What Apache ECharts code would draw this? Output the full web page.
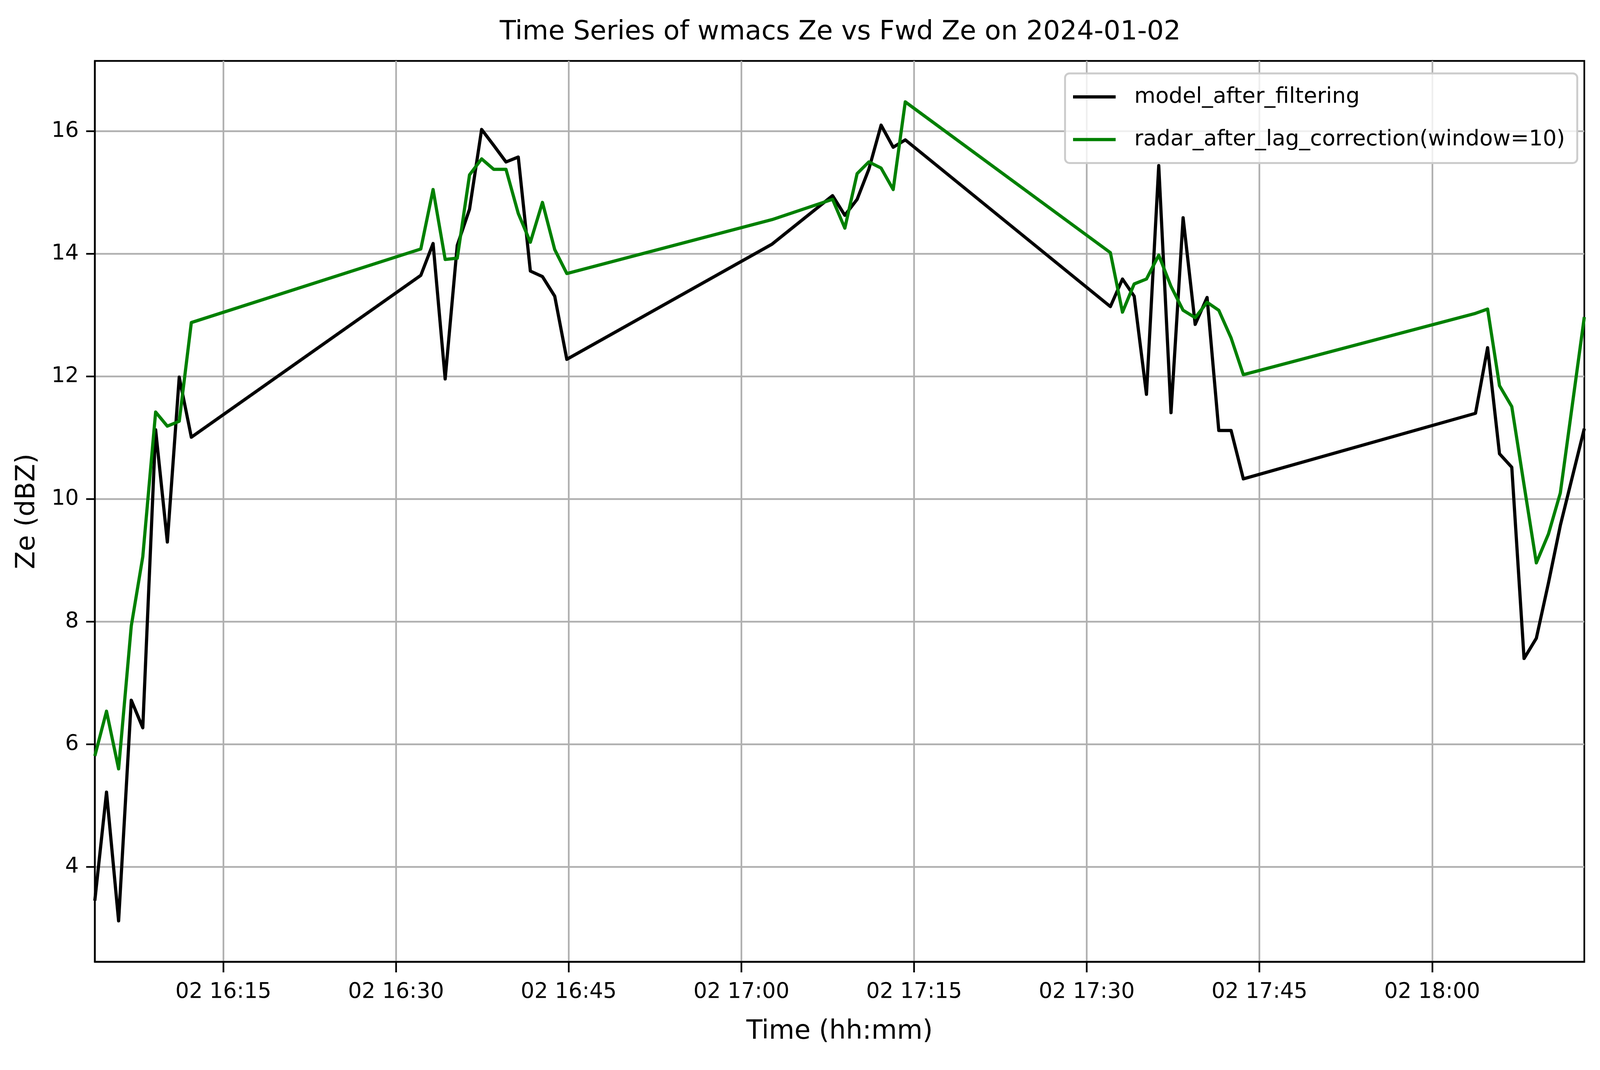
<!DOCTYPE html>
<html>
<head>
<meta charset="utf-8">
<title>Time Series of wmacs Ze vs Fwd Ze</title>
<script src="https://cdn.jsdelivr.net/npm/echarts@6/dist/echarts.min.js"></script>
<style>
  html, body { margin: 0; padding: 0; background: #fff; overflow: hidden; }
  #chart { width: 100vw; height: 100vh; }
</style>
</head>
<body>
<div id="chart"></div>
<script>
// Ze time series for 2024-01-02
const day = [2024, 0, 2];
const times = [
  '16:03:50', '16:04:51', '16:05:54', '16:07:00', '16:08:00', '16:09:07', '16:10:08', '16:11:10', '16:12:13',
  '16:32:09', '16:33:13', '16:34:16', '16:35:19', '16:36:23', '16:37:26', '16:38:29', '16:39:33', '16:40:37',
  '16:41:40', '16:42:43', '16:43:47', '16:44:50',
  '17:02:40',
  '17:07:55', '17:08:59', '17:10:03', '17:11:04', '17:12:08', '17:13:11', '17:14:14',
  '17:32:03', '17:33:06', '17:34:07', '17:35:11', '17:36:15', '17:37:19', '17:38:22', '17:39:25', '17:40:27',
  '17:41:28', '17:42:32', '17:43:36',
  '18:03:46', '18:04:49', '18:05:51', '18:06:55', '18:07:59', '18:09:03', '18:10:06', '18:11:08', '18:13:13'
];
const modelZe = [
  3.45, 5.22, 3.12, 6.72, 6.27, 11.13, 9.30, 11.99, 11.01,
  13.65, 14.17, 11.96, 14.14, 14.73, 16.03, 15.77, 15.50, 15.58, 13.72, 13.63, 13.31, 12.28,
  14.16,
  14.95, 14.63, 14.89, 15.38, 16.10, 15.74, 15.86,
  13.14, 13.59, 13.31, 11.71, 15.44, 11.41, 14.59, 12.85, 13.29, 11.12, 11.12, 10.33,
  11.40, 12.47, 10.74, 10.52, 7.40, 7.73, 8.63, 9.57, 11.15
];
const radarZe = [
  5.81, 6.54, 5.60, 7.93, 9.06, 11.42, 11.19, 11.27, 12.88,
  14.08, 15.05, 13.91, 13.93, 15.29, 15.55, 15.38, 15.38, 14.66, 14.19, 14.84, 14.07, 13.68,
  14.56,
  14.89, 14.42, 15.31, 15.50, 15.40, 15.05, 16.48,
  14.02, 13.05, 13.51, 13.59, 13.98, 13.47, 13.08, 12.96, 13.21, 13.08, 12.63, 12.03,
  13.03, 13.10, 11.85, 11.51, 10.23, 8.96, 9.43, 10.10, 12.97
];
const xTicks = ['16:15', '16:30', '16:45', '17:00', '17:15', '17:30', '17:45', '18:00'];
const yTicks = [4, 6, 8, 10, 12, 14, 16];
const yRange = [2.452, 17.148];

const FONT = 'DejaVu Sans';

// layout measured on the 4995 x 2740 figure; map it onto the real viewport
const kx = window.innerWidth / 4995;
const ky = window.innerHeight / 2740;
const sx = v => v * kx;   // horizontal distances, fonts, line widths
const sy = v => v * ky;   // vertical distances

function toTs(hms) {
  const p = hms.split(':').map(Number);
  return new Date(day[0], day[1], day[2], p[0], p[1], p[2] || 0).getTime();
}
function pad2(n) { return (n < 10 ? '0' : '') + n; }

const ts = times.map(toTs);
const xTickTs = xTicks.map(toTs);

const legendFont = sx(68);
const chart = echarts.init(document.getElementById('chart'), null, { renderer: 'canvas' });

const option = {
  animation: false,
  backgroundColor: '#ffffff',
  title: {
    text: 'Time Series of wmacs Ze vs Fwd Ze on 2024-01-02',
    left: sx(1560),
    top: sy(83) - sx(83) * 0.5,
    padding: 0,
    textStyle: { fontFamily: FONT, fontSize: sx(83), fontWeight: 'normal', color: '#000' }
  },
  legend: {
    orient: 'vertical',
    right: sx(71),
    top: sy(188),
    padding: [sy(248 - 188) - legendFont / 2, sx(38), sy(248 - 188) - legendFont / 2, sx(25)],
    itemGap: sy(109) - legendFont,
    itemWidth: sx(133),
    itemHeight: sx(10),
    icon: 'rect',
    backgroundColor: 'rgba(255,255,255,0.8)',
    borderColor: '#cccccc',
    borderWidth: sx(6),
    borderRadius: sx(14),
    textStyle: { fontFamily: FONT, fontSize: legendFont, color: '#000', padding: [0, 0, 0, sx(52)] },
    data: ['model_after_filtering', 'radar_after_lag_correction(window=10)']
  },
  grid: {
    left: sx(296), right: sx(49), top: sy(156), bottom: sy(277),
    show: true,
    borderColor: '#000',
    borderWidth: sx(5.3)
  },
  xAxis: {
    type: 'value',
    min: ts[0],
    max: ts[ts.length - 1],
    name: 'Time (hh:mm)',
    nameLocation: 'middle',
    nameGap: sy(2643 - 2463) - sx(82) * 0.5,
    nameTextStyle: { fontFamily: FONT, fontSize: sx(82), color: '#000' },
    axisLine: { show: true, lineStyle: { color: '#000', width: sx(5.3) } },
    axisTick: {
      show: true, inside: false, length: sy(27),
      customValues: xTickTs,
      lineStyle: { color: '#000', width: sx(5.3) }
    },
    axisLabel: {
      customValues: xTickTs,
      margin: sy(2541 - 2463) - sx(67) * 0.5,
      fontFamily: FONT, fontSize: sx(67), color: '#000',
      formatter: function (v) {
        const d = new Date(v);
        return pad2(d.getDate()) + ' ' + pad2(d.getHours()) + ':' + pad2(d.getMinutes());
      }
    },
    splitLine: { show: true, lineStyle: { color: '#b0b0b0', width: sx(5.3) } }
  },
  yAxis: {
    type: 'value',
    min: yRange[0],
    max: yRange[1],
    name: 'Ze (dBZ)',
    nameLocation: 'middle',
    nameGap: sx(169),
    nameTextStyle: { fontFamily: FONT, fontSize: sx(82), color: '#000' },
    axisLine: { show: true, lineStyle: { color: '#000', width: sx(5.3) } },
    axisTick: {
      show: true, inside: false, length: sx(27),
      customValues: yTicks,
      lineStyle: { color: '#000', width: sx(5.3) }
    },
    axisLabel: {
      customValues: yTicks,
      margin: sx(50),
      fontFamily: FONT, fontSize: sx(67), color: '#000',
      formatter: v => String(Math.round(v))
    },
    splitLine: { show: true, lineStyle: { color: '#b0b0b0', width: sx(5.3) } }
  },
  series: [
    {
      name: 'model_after_filtering',
      type: 'line',
      showSymbol: false,
      symbol: 'none',
      color: '#000000',
      lineStyle: { color: '#000000', width: sx(10), join: 'round', cap: 'butt' },
      data: ts.map((t, i) => [t, modelZe[i]])
    },
    {
      name: 'radar_after_lag_correction(window=10)',
      type: 'line',
      showSymbol: false,
      symbol: 'none',
      color: '#008000',
      lineStyle: { color: '#008000', width: sx(10), join: 'round', cap: 'butt' },
      data: ts.map((t, i) => [t, radarZe[i]])
    }
  ]
};

chart.setOption(option);
</script>
</body>
</html>
